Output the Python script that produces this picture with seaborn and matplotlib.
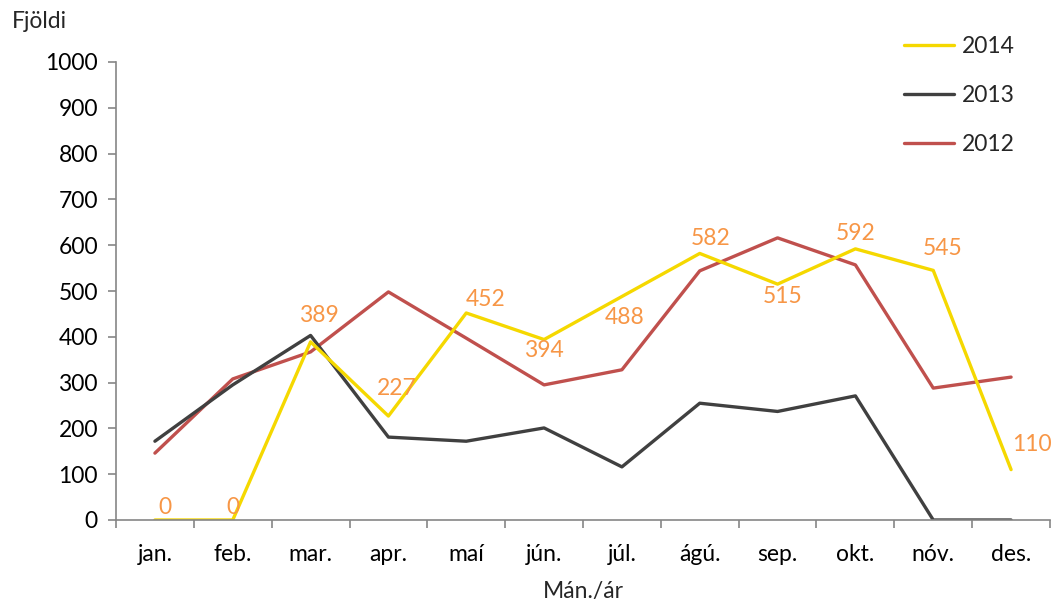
import matplotlib
matplotlib.use("Agg")
import matplotlib.pyplot as plt
import seaborn as sns
import pandas as pd
import numpy as np

months = ["jan.", "feb.", "mar.", "apr.", "maí", "jún.", "júl.", "ágú.", "sep.", "okt.", "nóv.", "des."]
years = ["2014", "2013", "2012"]
v2014 = [0, 0, 389, 227, 452, 394, 488, 582, 515, 592, 545, 110]
v2013 = [172, 295, 403, 181, 172, 201, 116, 255, 237, 271, 0, 0]
v2012 = [146, 308, 367, 498, 397, 295, 328, 544, 616, 557, 288, 312]
yticks = list(range(0, 1001, 100))

# label offsets (points) for the 2014 values
label_offsets = [(7, 9), (0, 9), (6, 19), (6, 20), (14, 10), (0, -8), (2, -15),
                 (8, 11), (4, -9), (0, 11), (7, 16), (15, 18)]

colors = {"2014": "#F5D800", "2013": "#404040", "2012": "#C0504D"}
label_color = "#F79646"
fs = 16.5

df = pd.DataFrame({
    "pos": list(range(12)) * 3,
    "value": v2012 + v2013 + v2014,
    "year": ["2012"] * 12 + ["2013"] * 12 + ["2014"] * 12,
})

sns.set_theme(style="white")
plt.rcParams["font.family"] = ["Lato", "DejaVu Sans"]

fig = plt.figure(figsize=(10.55, 6.05), dpi=100)
ax = fig.add_axes([116 / 1055, 85 / 605, 934 / 1055, 458 / 605])

sns.lineplot(data=df, x="pos", y="value", hue="year", palette=colors,
             hue_order=["2012", "2013", "2014"], linewidth=2.4, ax=ax,
             legend=False, sort=False)

for i, v in enumerate(v2014):
    dx, dy = label_offsets[i]
    ax.annotate(str(v), (i, v), xytext=(dx, dy), textcoords="offset points",
                ha="center", va="center", color=label_color, fontsize=fs)

ax.set_xlim(-0.5, 11.5)
ax.set_ylim(0, 1000)
ax.set_yticks(yticks)
ax.set_yticklabels([str(t) for t in yticks], fontsize=fs)
ax.set_xticks(range(12))
ax.set_xticklabels(months, fontsize=fs)
ax.set_xticks(np.arange(-0.5, 12, 1), minor=True)
ax.tick_params(axis="x", which="major", bottom=True, length=0, pad=17)
ax.tick_params(axis="x", which="minor", bottom=True, length=6, width=1.2,
               color="#868686", direction="out")
ax.tick_params(axis="y", which="major", left=True, length=6, width=1.2,
               color="#868686", direction="out", pad=7, labelcolor="black")
ax.tick_params(axis="x", labelcolor="black")

for s in ["top", "right"]:
    ax.spines[s].set_visible(False)
for s in ["left", "bottom"]:
    ax.spines[s].set_color("#868686")
    ax.spines[s].set_linewidth(1.2)

ax.set_xlabel("Mán./ár", fontsize=fs, labelpad=12)
ax.set_ylabel("")
fig.text(12 / 1055, 1 - 22 / 605, "Fjöldi", fontsize=fs, ha="left", va="center")

handles = [plt.Line2D([], [], color=colors[y], linewidth=2.4) for y in years]
fig.legend(handles, years, loc="upper left", bbox_to_anchor=(883 / 1055, 1 - 15 / 605),
           frameon=False, fontsize=fs, handlelength=2.2, handletextpad=0.35,
           labelspacing=1.22)

fig.savefig("out.png", dpi=100)
